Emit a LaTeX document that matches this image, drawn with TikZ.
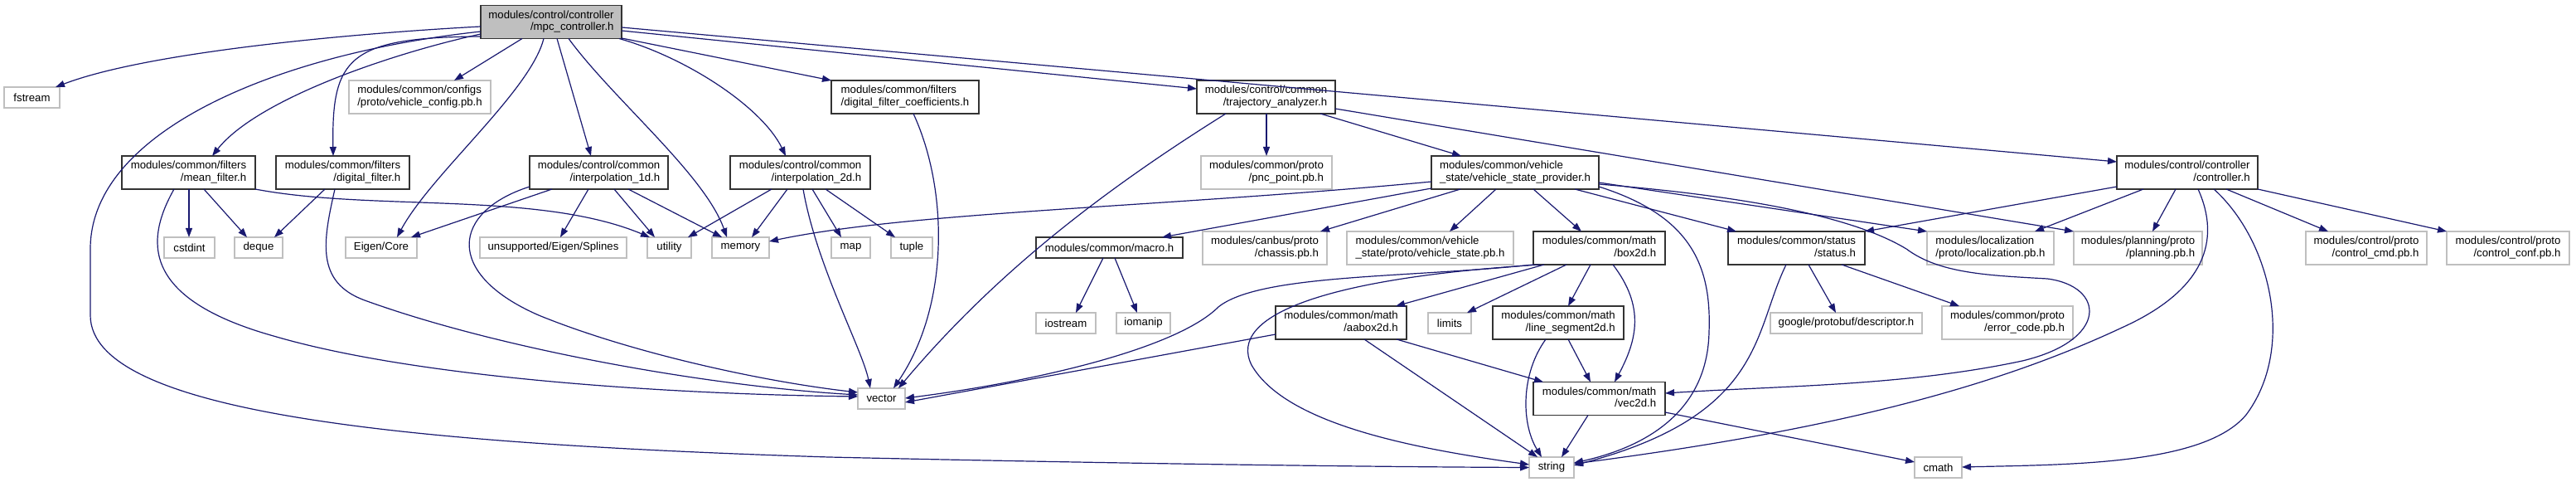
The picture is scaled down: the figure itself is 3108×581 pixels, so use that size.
\documentclass[tikz,border=0pt]{standalone}
\usepackage{fontspec}
\usetikzlibrary{arrows.meta}
\newfontfamily\dfont{Liberation Sans}
\definecolor{edgecol}{HTML}{191970}
\definecolor{graybd}{HTML}{BFBFBF}
\definecolor{docbd}{HTML}{333333}
\newcommand\twol[2]{\begin{tabular}{@{}l@{}}#1\\\hfill#2\hfill\end{tabular}}
\begin{document}
\begin{tikzpicture}[x=0.5pt,y=-0.5pt,
  box/.style={rectangle, inner sep=0pt, outer sep=0pt, line width=0.9pt,
    font=\dfont\fontsize{6.6}{7.4}\selectfont, align=center, minimum height=20pt},
  doc/.style={box, draw=docbd},
  ext/.style={box, draw=graybd},
  one/.style={minimum height=12.5pt},
  mainbox/.style={doc, fill=graybd},
  bw/.style={minimum width=#1*0.5pt},
  e/.style={draw=edgecol, line width=0.6pt, -{Triangle[length=5.5pt,width=4pt]}}]
\useasboundingbox[fill=white] (0,0) rectangle (3108,581);
% row 0
\node[mainbox,bw=170] (mpc) at (665,26.5) {\twol{modules/control/controller}{/mpc\_controller.h}};
% row 1
\node[ext,one,bw=67] (fstream) at (38.5,117.5) {fstream};
\node[ext,bw=171] (vconfig) at (506.5,117) {\twol{modules/common/configs}{/proto/vehicle\_config.pb.h}};
\node[doc,bw=178] (dfc) at (1092,117) {\twol{modules/common/filters}{/digital\_filter\_coefficients.h}};
\node[doc,bw=167] (traj) at (1527.5,117) {\twol{modules/control/common}{/trajectory\_analyzer.h}};
% row 2
\node[doc,bw=161] (mean) at (227.5,208) {\twol{modules/common/filters}{/mean\_filter.h}};
\node[doc,bw=161] (dfilter) at (413.5,208) {\twol{modules/common/filters}{/digital\_filter.h}};
\node[doc,bw=167] (interp1) at (722.5,208) {\twol{modules/control/common}{/interpolation\_1d.h}};
\node[doc,bw=169] (interp2) at (965.5,208) {\twol{modules/control/common}{/interpolation\_2d.h}};
\node[ext,bw=158] (pnc) at (1528,208) {\twol{modules/common/proto}{/pnc\_point.pb.h}};
\node[doc,bw=202] (vsp) at (1828,208) {\twol{modules/common/vehicle}{\_state/vehicle\_state\_provider.h}};
\node[doc,bw=170] (controller) at (2639,208) {\twol{modules/control/controller}{/controller.h}};
% row 3
\node[ext,one,bw=61] (cstdint) at (228.5,298.5) {cstdint};
\node[ext,one,bw=58] (deque) at (312,298.5) {deque};
\node[ext,one,bw=86] (eigen) at (460,298.5) {Eigen/Core};
\node[ext,one,bw=177] (splines) at (667.5,298.5) {unsupported/Eigen/Splines};
\node[ext,one,bw=53] (utility) at (807.5,298.5) {utility};
\node[ext,one,bw=69] (memory) at (893.5,298.5) {memory};
\node[ext,one,bw=47] (map) at (1026.5,298.5) {map};
\node[ext,one,bw=50] (tuple) at (1100,298.5) {tuple};
\node[doc,one,bw=177] (macro) at (1338.5,298.5) {modules/common/macro.h};
\node[ext,bw=150] (chassis) at (1526,299) {\twol{modules/canbus/proto}{/chassis.pb.h}};
\node[ext,bw=201] (vstate) at (1725.5,299) {\twol{modules/common/vehicle}{\_state/proto/vehicle\_state.pb.h}};
\node[doc,bw=159] (box2d) at (1929.5,299) {\twol{modules/common/math}{/box2d.h}};
\node[doc,bw=165] (status) at (2167.5,299) {\twol{modules/common/status}{/status.h}};
\node[ext,bw=153] (localization) at (2401.5,299) {\twol{modules/localization}{/proto/localization.pb.h}};
\node[ext,bw=155] (planning) at (2579.5,299) {\twol{modules/planning/proto}{/planning.pb.h}};
\node[ext,bw=146] (ccmd) at (2855,299) {\twol{modules/control/proto}{/control\_cmd.pb.h}};
\node[ext,bw=148] (cconf) at (3026,299) {\twol{modules/control/proto}{/control\_conf.pb.h}};
% row 4
\node[ext,one,bw=72] (iostream) at (1286,389.5) {iostream};
\node[ext,one,bw=65] (iomanip) at (1379.5,389.5) {iomanip};
\node[doc,bw=158] (aabox) at (1618,389) {\twol{modules/common/math}{/aabox2d.h}};
\node[ext,one,bw=52] (limits) at (1749,389.5) {limits};
\node[doc,bw=158] (lineseg) at (1880,389) {\twol{modules/common/math}{/line\_segment2d.h}};
\node[ext,one,bw=183] (descriptor) at (2227.5,389.5) {google/protobuf/descriptor.h};
\node[ext,bw=158] (errcode) at (2422,389) {\twol{modules/common/proto}{/error\_code.pb.h}};
% row 5
\node[ext,one,bw=57] (vector) at (1063.5,480.5) {vector};
\node[doc,bw=159] (vec2d) at (1929.5,480.5) {\twol{modules/common/math}{/vec2d.h}};
% row 6
\node[ext,one,bw=54] (string) at (1872,563.5) {string};
\node[ext,one,bw=57] (cmath) at (2338.5,563.5) {cmath};

% edges from mpc_controller
\draw[e] (mpc.west |- 0,32) .. controls (430,40) and (180,62) .. (fstream.north -| 67,0);
\draw[e] (mpc.west |- 0,38) .. controls (330,65) and (109,160) .. (109,300) -- (109,380)
  .. controls (109,500) and (500,535) .. (1000,551) .. controls (1400,560) and (1700,563) .. (string.west);
\draw[e] (mpc.west |- 0,41) .. controls (470,65) and (310,120) .. (mean.north -| 256,0);
\draw[e] (mpc.west |- 0,44) .. controls (420,45) and (400,70) .. (dfilter.north -| 402,0);
\draw[e] (mpc.south -| 630,0) -- (vconfig.north -| 548,0);
\draw[e] (mpc.south -| 656,0) .. controls (640,110) and (520,210) .. (eigen.north -| 479,0);
\draw[e] (mpc.south -| 672,0) -- (interp1.north -| 713,0);
\draw[e] (mpc.south -| 686,0) .. controls (740,120) and (850,210) .. (memory.north -| 877,0);
\draw[e] (mpc.south -| 747,0) .. controls (830,70) and (920,130) .. (interp2.north -| 948,0);
\draw[e] (mpc.east |- 0,46) -- (dfc.north west);
\draw[e] (mpc.east |- 0,37) -- (traj.west |- 0,107);
\draw[e] (mpc.east |- 0,33) -- (controller.west |- 0,195);

% mean_filter
\draw[e] (mean.south -| 210,0) .. controls (175,290) and (170,360) .. (330,405)
  .. controls (500,455) and (800,475) .. (vector.west |- 0,478);
\draw[e] (mean.south -| 228,0) -- (cstdint.north -| 228,0);
\draw[e] (mean.south -| 246,0) -- (deque.north -| 298,0);
\draw[e] (mean.south east) .. controls (450,255) and (650,230) .. (utility.north -| 784,0);

% digital_filter
\draw[e] (dfilter.south -| 392,0) -- (deque.north -| 331,0);
\draw[e] (dfilter.south -| 404,0) .. controls (390,290) and (380,340) .. (440,362)
  .. controls (600,420) and (850,465) .. (vector.west |- 0,476);

% interpolation_1d
\draw[e] (interp1.south -| 666,0) -- (eigen.north -| 496,0);
\draw[e] (interp1.west |- 0,225) .. controls (545,255) and (535,330) .. (650,380)
  .. controls (760,425) and (920,460) .. (vector.west |- 0,473);
\draw[e] (interp1.south -| 710,0) -- (splines.north -| 676,0);
\draw[e] (interp1.south -| 741,0) -- (utility.north -| 790,0);
\draw[e] (interp1.south -| 758,0) -- (memory.north -| 871,0);

% interpolation_2d
\draw[e] (interp2.south -| 931,0) -- (utility.north -| 830,0);
\draw[e] (interp2.south -| 950,0) -- (memory.north -| 907,0);
\draw[e] (interp2.south -| 969,0) .. controls (985,320) and (1040,420) .. (vector.north -| 1050,0);
\draw[e] (interp2.south -| 980,0) -- (map.north -| 1015,0);
\draw[e] (interp2.south -| 996,0) -- (tuple.north -| 1080,0);

% digital_filter_coefficients
\draw[e] (dfc.south -| 1102,0) .. controls (1145,230) and (1145,370) .. (vector.north -| 1078,0);

% trajectory_analyzer
\draw[e] (traj.south -| 1479,0) .. controls (1330,230) and (1200,330) .. (vector.north -| 1084,0);
\draw[e] (traj.south -| 1528,0) -- (pnc.north -| 1528,0);
\draw[e] (traj.south -| 1593,0) -- (vsp.north -| 1763,0);
\draw[e] (traj.east |- 0,131) -- (planning.north west);

% vehicle_state_provider
\draw[e] (vsp.west |- 0,219) .. controls (1400,250) and (1100,255) .. (memory.east |- 0,291);
\draw[e] (vsp.west |- 0,227) -- (macro.north -| 1402,0);
\draw[e] (vsp.south -| 1762,0) -- (chassis.north -| 1593,0);
\draw[e] (vsp.south -| 1805,0) -- (vstate.north -| 1749,0);
\draw[e] (vsp.south -| 1850,0) -- (box2d.north -| 1908,0);
\draw[e] (vsp.south -| 1900,0) -- (status.north -| 2095,0);
\draw[e] (vsp.east |- 0,220) -- (localization.north west);
\draw[e] (vsp.east |- 0,222) .. controls (2150,240) and (2250,270) .. (2300,300)
  .. controls (2340,330) and (2400,332) .. (2470,336)
  .. controls (2540,345) and (2545,410) .. (2440,435)
  .. controls (2300,465) and (2150,465) .. (vec2d.east |- 0,474);
\draw[e] (vsp.east |- 0,225) .. controls (2040,260) and (2065,320) .. (2062,400)
  .. controls (2060,500) and (1980,540) .. (string.east |- 0,558);

% macro
\draw[e] (macro.south -| 1331,0) -- (iostream.north -| 1298,0);
\draw[e] (macro.south -| 1345,0) -- (iomanip.north -| 1372,0);

% box2d
\draw[e] (box2d.south -| 1863,0) -- (aabox.north -| 1684,0);
\draw[e] (box2d.south -| 1890,0) -- (limits.north -| 1770,0);
\draw[e] (box2d.south -| 1919,0) -- (lineseg.north -| 1892,0);
\draw[e] (box2d.south -| 1946,0) .. controls (1985,370) and (1975,410) .. (vec2d.north -| 1948,0);
\draw[e] (box2d.south west) .. controls (1700,335) and (1520,330) .. (1470,370)
  .. controls (1420,420) and (1250,460) .. (vector.east |- 0,480);
\draw[e] (box2d.south -| 1858,0) .. controls (1600,335) and (1480,380) .. (1510,440)
  .. controls (1550,510) and (1700,540) .. (string.west |- 0,560);

% aabox2d
\draw[e] (aabox.west |- 0,403) -- (vector.east |- 0,485);
\draw[e] (aabox.south -| 1685,0) -- (vec2d.north -| 1862,0);
\draw[e] (aabox.south -| 1646,0) -- (string.north -| 1855,0);

% line_segment2d
\draw[e] (lineseg.south -| 1892,0) -- (vec2d.north -| 1919,0);
\draw[e] (lineseg.south -| 1865,0) .. controls (1835,450) and (1835,510) .. (string.north -| 1860,0);

% vec2d
\draw[e] (vec2d.south -| 1916,0) -- (string.north -| 1884,0);
\draw[e] (vec2d.east |- 0,497) -- (cmath.west |- 0,557);

% status
\draw[e] (status.south -| 2182,0) -- (descriptor.north -| 2215,0);
\draw[e] (status.south -| 2222,0) -- (errcode.north -| 2364,0);
\draw[e] (status.south -| 2155,0) .. controls (2115,400) and (2130,500) .. (string.east |- 0,561);

% controller
\draw[e] (controller.west |- 0,225) -- (status.north east);
\draw[e] (controller.south -| 2586,0) -- (localization.north -| 2455,0);
\draw[e] (controller.south -| 2625,0) -- (planning.north -| 2597,0);
\draw[e] (controller.south -| 2652,0) .. controls (2680,290) and (2660,350) .. (2560,395)
  .. controls (2400,470) and (2200,520) .. (string.east |- 0,559);
\draw[e] (controller.south -| 2671,0) .. controls (2740,290) and (2770,420) .. (2710,500)
  .. controls (2660,560) and (2500,560) .. (cmath.east |- 0,563);
\draw[e] (controller.south -| 2686,0) -- (ccmd.north -| 2809,0);
\draw[e] (controller.south east) -- (cconf.north west);
\end{tikzpicture}
\end{document}
